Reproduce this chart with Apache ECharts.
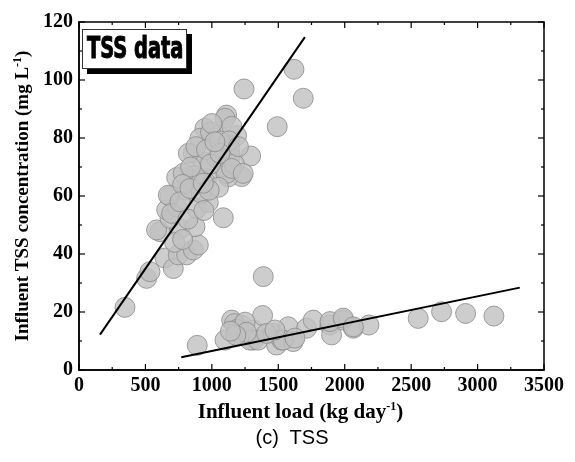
<!DOCTYPE html>
<html>
<head>
<meta charset="utf-8">
<script src="https://cdn.jsdelivr.net/npm/echarts@6/dist/echarts.min.js"></script>
<style>
    * { margin: 0; padding: 0; }
    body { background: #ffffff; }
    #chart { width: 575px; height: 462px; }
    /* legend box with drop shadow */
    #tag {
        position: absolute; left: 82px; top: 29px; width: 103px; height: 38px;
        background: #fff; border: 1px solid #333; box-shadow: 5px 5px 0 #000;
        overflow: hidden;
    }
    #tag span {
        position: absolute; left: 4px; top: 0; line-height: 38px;
        font: bold 30px 'DejaVu Sans Condensed'; color: #000; -webkit-text-stroke: 1px #000;
        transform: scaleX(0.72); transform-origin: left center; white-space: nowrap;
    }
    #caption {
        position: absolute; left: 192px; top: 426px; width: 200px; text-align: center;
        font: 20px 'Liberation Sans'; color: #000;
    }
</style>
</head>
<body>
<div id="chart"></div>
<div id="tag"><span>TSS data</span></div>
<div id="caption">(c)&nbsp; TSS</div>
<script>
    // upper cluster (load, conc)
    const loadUpper = [346, 509, 534, 647, 710, 747, 810, 860, 898, 609, 584, 760, 873, 685, 660, 735, 886, 973,
        1086, 685, 810, 735, 860, 961, 1224, 1124, 948, 672, 697, 1387, 1242, 1618, 1688, 1492, 1292, 1111,
        1099, 948, 1011, 1186, 860, 935, 873, 785, 910, 1136, 1036, 1086, 1136, 1111, 823, 1050, 990, 1150,
        880, 960, 990, 1060, 1000, 840, 780, 920, 760, 820, 720, 780, 1130, 1170, 1200, 1050, 980, 940,
        1061, 1149, 1236, 835, 935, 1023]
    const concUpper = [21.6, 31.6, 33.9, 38.6, 35, 39.7, 39.7, 41.4, 43.1, 47.7, 48.3, 48.6, 49.4, 52.3, 55.2, 56.3, 55.7, 57.8,
        52.5, 60, 62, 66.4, 67.2, 66.1, 66.7, 66.6, 64.9, 60.3, 54, 32.2, 96.9, 103.7, 93.7, 83.9, 73.8, 87.9,
        86.8, 83.3, 78.7, 80.8, 74.7, 71.8, 66.9, 67.8, 79.9, 76.4, 73, 70.1, 73.6, 67.8, 74.7, 81, 82, 84,
        77, 76, 71, 79, 85, 70, 64, 61, 58, 52, 44, 45, 79, 71, 77, 63, 62, 55,
        74.7, 69.5, 67.8, 62.6, 64.4, 78.7]
    // lower cluster
    const loadLower = [890, 1099, 1149, 1224, 1211, 1312, 1382, 1312, 1287, 1349, 1462, 1487, 1575, 1525, 1612,
        1713, 1763, 1889, 1901, 1989, 2065, 2182, 2553, 2729, 2910, 3123, 1170, 1190, 1250, 1260, 1180, 1140,
        1537, 1625, 1412, 1475, 1889, 1989, 2065]
    const concLower = [8.5, 10.3, 17.2, 15.5, 12.6, 13.8, 18.8, 10.3, 10.3, 10.3, 12.6, 8.6, 14.9, 10.3, 9.8,
        14.4, 17.2, 15.5, 12.1, 17.2, 14.4, 15.5, 17.8, 20.1, 19.5, 18.6, 16, 14, 16.5, 13, 12, 13.4,
        10.3, 11, 12.6, 13.8, 16.7, 17.9, 14.9]
    // regression lines
    const fitUpperX = [158, 1700]
    const fitUpperY = [12.2, 114.8]
    const fitLowerX = [770, 3318]
    const fitLowerY = [4.4, 28.4]

    const xTicks = [0, 500, 1000, 1500, 2000, 2500, 3000, 3500]
    const yTicks = [0, 20, 40, 60, 80, 100, 120]

    function pairs(xs, ys) {
        return xs.map((x, i) => [x, ys[i]])
    }

    // minor ticks halfway between major ones
    function halves(ticks) {
        let out = []
        for (let i = 0; i < ticks.length - 1; i++) {
            out.push((ticks[i] + ticks[i + 1]) / 2)
        }
        return out
    }

    const xMin = xTicks[0], xMax = xTicks[xTicks.length - 1]
    const yMin = yTicks[0], yMax = yTicks[yTicks.length - 1]

    const chart = echarts.init(document.getElementById('chart'))

    const labelFont = {
        fontFamily: 'Liberation Serif',
        fontWeight: 'bold',
        fontSize: 20,
        color: '#000'
    }

    function titleRich(size) {
        return {
            a: { fontFamily: 'Liberation Serif', fontWeight: 'bold', fontSize: size, color: '#000', lineHeight: size + 3 },
            s: { fontFamily: 'Liberation Serif', fontWeight: 'bold', fontSize: 12, color: '#000', lineHeight: size + 3, verticalAlign: 'top' }
        }
    }

    const markerStyle = {
        color: '#c0c0c0',
        borderColor: '#8a8a8a',
        borderWidth: 1
    }

    // box frame + inward ticks on all four sides
    function drawFrame(params, api) {
        const lo = api.coord([xMin, yMin])
        const hi = api.coord([xMax, yMax])
        const tickStyle = { stroke: '#000', lineWidth: 1.2 }
        let children = [{
            type: 'rect',
            shape: { x: lo[0], y: hi[1], width: hi[0] - lo[0], height: lo[1] - hi[1] },
            style: { fill: 'none', stroke: '#000', lineWidth: 1.5 }
        }]
        function xTick(v, len) {
            const px = api.coord([v, yMin])[0]
            children.push({ type: 'line', shape: { x1: px, y1: lo[1], x2: px, y2: lo[1] - len }, style: tickStyle })
            children.push({ type: 'line', shape: { x1: px, y1: hi[1], x2: px, y2: hi[1] + len }, style: tickStyle })
        }
        function yTick(v, len) {
            const py = api.coord([xMin, v])[1]
            children.push({ type: 'line', shape: { x1: lo[0], y1: py, x2: lo[0] + len, y2: py }, style: tickStyle })
            children.push({ type: 'line', shape: { x1: hi[0], y1: py, x2: hi[0] - len, y2: py }, style: tickStyle })
        }
        xTicks.forEach(v => xTick(v, 6))
        halves(xTicks).forEach(v => xTick(v, 3))
        yTicks.forEach(v => yTick(v, 6))
        halves(yTicks).forEach(v => yTick(v, 3))
        return { type: 'group', children: children }
    }

    let option = {
        animation: false,
        grid: { left: 79, right: 31, top: 22, bottom: 92 },
        xAxis: {
            type: 'value',
            min: xMin,
            max: xMax,
            interval: 500,
            name: '{a|Influent load (kg day}{s|-1}{a|)}',
            nameLocation: 'middle',
            nameGap: 29,
            nameTextStyle: { rich: titleRich(21), padding: [0, 22, 0, 0] },
            axisLine: { show: true, onZero: false, lineStyle: { color: '#000', width: 1.5 } },
            axisTick: { show: false },
            splitLine: { show: false },
            axisLabel: Object.assign({ margin: 6, formatter: v => String(v) }, labelFont)
        },
        yAxis: {
            type: 'value',
            min: yMin,
            max: yMax,
            interval: 20,
            name: '{a|Influent TSS concentration (mg L}{s|-1}{a|)}',
            nameLocation: 'middle',
            nameGap: 41,
            nameTextStyle: { rich: titleRich(19) },
            axisLine: { show: true, onZero: false, lineStyle: { color: '#000', width: 1.5 } },
            axisTick: { show: false },
            splitLine: { show: false },
            axisLabel: Object.assign({ margin: 6, formatter: v => String(v) }, labelFont)
        },
        series: [
            {
                type: 'scatter',
                symbolSize: 20,
                itemStyle: markerStyle,
                data: pairs(loadUpper, concUpper)
            },
            {
                type: 'scatter',
                symbolSize: 20,
                itemStyle: markerStyle,
                data: pairs(loadLower, concLower)
            },
            {
                type: 'line',
                symbol: 'none',
                lineStyle: { color: '#000', width: 2 },
                data: pairs(fitUpperX, fitUpperY)
            },
            {
                type: 'line',
                symbol: 'none',
                lineStyle: { color: '#000', width: 2 },
                data: pairs(fitLowerX, fitLowerY)
            },
            {
                type: 'custom',
                silent: true,
                clip: false,
                z: 5,
                renderItem: drawFrame,
                encode: { x: 0, y: 1 },
                data: [[xMin, yMin]]
            }
        ]
    }

    chart.setOption(option)
</script>
</body>
</html>
